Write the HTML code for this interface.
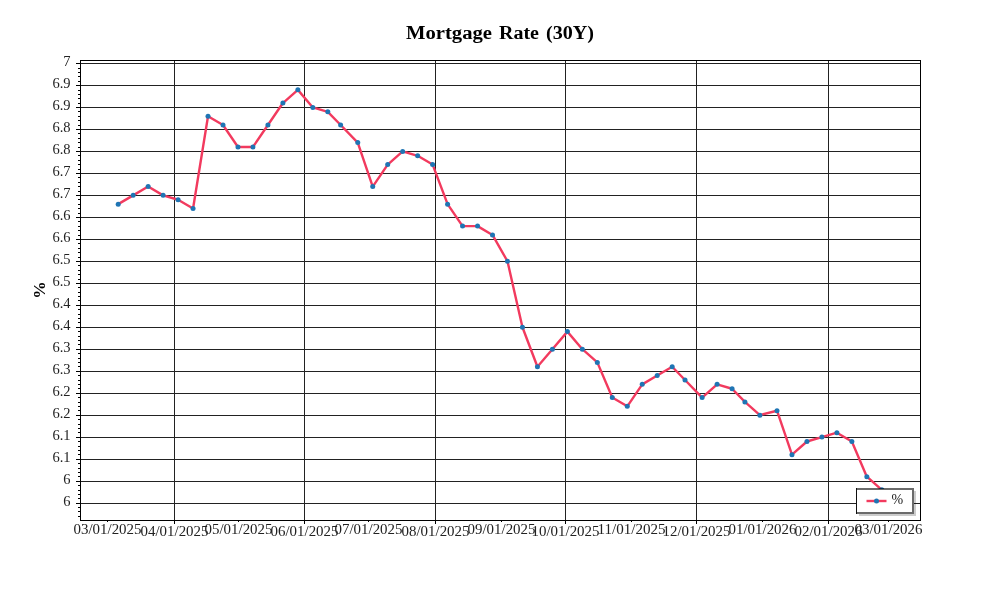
<!DOCTYPE html>
<html><head><meta charset="utf-8"><style>
html,body{margin:0;padding:0;background:#fff;}
body{width:1000px;height:600px;overflow:hidden;}
svg{display:block;will-change:transform;}
.t{font-family:"Liberation Serif",serif;}
</style></head><body>
<svg width="1000" height="600" viewBox="0 0 1000 600">
<rect x="0" y="0" width="1000" height="600" fill="#fff"/>
<g class="t" font-size="18" font-weight="bold" fill="#000">
<text x="406" y="39" textLength="86" lengthAdjust="spacingAndGlyphs">Mortgage</text>
<text x="499" y="39" textLength="40" lengthAdjust="spacingAndGlyphs">Rate</text>
<text x="546" y="39" textLength="48" lengthAdjust="spacingAndGlyphs">(30Y)</text>
</g>
<text class="t" transform="translate(44.7,290) rotate(-90)" text-anchor="middle" font-size="17.5" font-weight="bold" fill="#000">%</text>
<g fill="#222" shape-rendering="crispEdges">
<rect x="80" y="63" width="840" height="1"/>
<rect x="80" y="85" width="840" height="1"/>
<rect x="80" y="107" width="840" height="1"/>
<rect x="80" y="129" width="840" height="1"/>
<rect x="80" y="151" width="840" height="1"/>
<rect x="80" y="173" width="840" height="1"/>
<rect x="80" y="195" width="840" height="1"/>
<rect x="80" y="217" width="840" height="1"/>
<rect x="80" y="239" width="840" height="1"/>
<rect x="80" y="261" width="840" height="1"/>
<rect x="80" y="283" width="840" height="1"/>
<rect x="80" y="305" width="840" height="1"/>
<rect x="80" y="327" width="840" height="1"/>
<rect x="80" y="349" width="840" height="1"/>
<rect x="80" y="371" width="840" height="1"/>
<rect x="80" y="393" width="840" height="1"/>
<rect x="80" y="415" width="840" height="1"/>
<rect x="80" y="437" width="840" height="1"/>
<rect x="80" y="459" width="840" height="1"/>
<rect x="80" y="481" width="840" height="1"/>
<rect x="80" y="503" width="840" height="1"/>
<rect x="174" y="60" width="1" height="460"/>
<rect x="304" y="60" width="1" height="460"/>
<rect x="435" y="60" width="1" height="460"/>
<rect x="565" y="60" width="1" height="460"/>
<rect x="696" y="60" width="1" height="460"/>
<rect x="828" y="60" width="1" height="460"/>
</g>
<g fill="#000" shape-rendering="crispEdges">
<rect x="80" y="60" width="841" height="1"/>
<rect x="80" y="520" width="841" height="1"/>
<rect x="80" y="60" width="1" height="461"/>
<rect x="920" y="60" width="1" height="461"/>
<rect x="76" y="63" width="4" height="1"/>
<rect x="76" y="85" width="4" height="1"/>
<rect x="76" y="107" width="4" height="1"/>
<rect x="76" y="129" width="4" height="1"/>
<rect x="76" y="151" width="4" height="1"/>
<rect x="76" y="173" width="4" height="1"/>
<rect x="76" y="195" width="4" height="1"/>
<rect x="76" y="217" width="4" height="1"/>
<rect x="76" y="239" width="4" height="1"/>
<rect x="76" y="261" width="4" height="1"/>
<rect x="76" y="283" width="4" height="1"/>
<rect x="76" y="305" width="4" height="1"/>
<rect x="76" y="327" width="4" height="1"/>
<rect x="76" y="349" width="4" height="1"/>
<rect x="76" y="371" width="4" height="1"/>
<rect x="76" y="393" width="4" height="1"/>
<rect x="76" y="415" width="4" height="1"/>
<rect x="76" y="437" width="4" height="1"/>
<rect x="76" y="459" width="4" height="1"/>
<rect x="76" y="481" width="4" height="1"/>
<rect x="76" y="503" width="4" height="1"/>
<rect x="78" y="68" width="2" height="1"/>
<rect x="78" y="72" width="2" height="1"/>
<rect x="78" y="76" width="2" height="1"/>
<rect x="78" y="81" width="2" height="1"/>
<rect x="78" y="90" width="2" height="1"/>
<rect x="78" y="94" width="2" height="1"/>
<rect x="78" y="98" width="2" height="1"/>
<rect x="78" y="103" width="2" height="1"/>
<rect x="78" y="111" width="2" height="1"/>
<rect x="78" y="116" width="2" height="1"/>
<rect x="78" y="120" width="2" height="1"/>
<rect x="78" y="125" width="2" height="1"/>
<rect x="78" y="133" width="2" height="1"/>
<rect x="78" y="138" width="2" height="1"/>
<rect x="78" y="142" width="2" height="1"/>
<rect x="78" y="147" width="2" height="1"/>
<rect x="78" y="155" width="2" height="1"/>
<rect x="78" y="160" width="2" height="1"/>
<rect x="78" y="164" width="2" height="1"/>
<rect x="78" y="169" width="2" height="1"/>
<rect x="78" y="177" width="2" height="1"/>
<rect x="78" y="182" width="2" height="1"/>
<rect x="78" y="186" width="2" height="1"/>
<rect x="78" y="191" width="2" height="1"/>
<rect x="78" y="199" width="2" height="1"/>
<rect x="78" y="204" width="2" height="1"/>
<rect x="78" y="208" width="2" height="1"/>
<rect x="78" y="213" width="2" height="1"/>
<rect x="78" y="221" width="2" height="1"/>
<rect x="78" y="226" width="2" height="1"/>
<rect x="78" y="230" width="2" height="1"/>
<rect x="78" y="235" width="2" height="1"/>
<rect x="78" y="243" width="2" height="1"/>
<rect x="78" y="248" width="2" height="1"/>
<rect x="78" y="252" width="2" height="1"/>
<rect x="78" y="257" width="2" height="1"/>
<rect x="78" y="265" width="2" height="1"/>
<rect x="78" y="270" width="2" height="1"/>
<rect x="78" y="274" width="2" height="1"/>
<rect x="78" y="279" width="2" height="1"/>
<rect x="78" y="287" width="2" height="1"/>
<rect x="78" y="292" width="2" height="1"/>
<rect x="78" y="296" width="2" height="1"/>
<rect x="78" y="300" width="2" height="1"/>
<rect x="78" y="309" width="2" height="1"/>
<rect x="78" y="314" width="2" height="1"/>
<rect x="78" y="318" width="2" height="1"/>
<rect x="78" y="322" width="2" height="1"/>
<rect x="78" y="331" width="2" height="1"/>
<rect x="78" y="336" width="2" height="1"/>
<rect x="78" y="340" width="2" height="1"/>
<rect x="78" y="344" width="2" height="1"/>
<rect x="78" y="353" width="2" height="1"/>
<rect x="78" y="358" width="2" height="1"/>
<rect x="78" y="362" width="2" height="1"/>
<rect x="78" y="366" width="2" height="1"/>
<rect x="78" y="375" width="2" height="1"/>
<rect x="78" y="380" width="2" height="1"/>
<rect x="78" y="384" width="2" height="1"/>
<rect x="78" y="388" width="2" height="1"/>
<rect x="78" y="397" width="2" height="1"/>
<rect x="78" y="402" width="2" height="1"/>
<rect x="78" y="406" width="2" height="1"/>
<rect x="78" y="410" width="2" height="1"/>
<rect x="78" y="419" width="2" height="1"/>
<rect x="78" y="424" width="2" height="1"/>
<rect x="78" y="428" width="2" height="1"/>
<rect x="78" y="432" width="2" height="1"/>
<rect x="78" y="441" width="2" height="1"/>
<rect x="78" y="446" width="2" height="1"/>
<rect x="78" y="450" width="2" height="1"/>
<rect x="78" y="454" width="2" height="1"/>
<rect x="78" y="463" width="2" height="1"/>
<rect x="78" y="468" width="2" height="1"/>
<rect x="78" y="472" width="2" height="1"/>
<rect x="78" y="476" width="2" height="1"/>
<rect x="78" y="485" width="2" height="1"/>
<rect x="78" y="490" width="2" height="1"/>
<rect x="78" y="494" width="2" height="1"/>
<rect x="78" y="498" width="2" height="1"/>
<rect x="78" y="507" width="2" height="1"/>
<rect x="78" y="511" width="2" height="1"/>
<rect x="78" y="516" width="2" height="1"/>
<rect x="107" y="520" width="1" height="2"/>
<rect x="174" y="520" width="1" height="4"/>
<rect x="238" y="520" width="1" height="2"/>
<rect x="304" y="520" width="1" height="4"/>
<rect x="368" y="520" width="1" height="2"/>
<rect x="435" y="520" width="1" height="4"/>
<rect x="501" y="520" width="1" height="2"/>
<rect x="565" y="520" width="1" height="4"/>
<rect x="631" y="520" width="1" height="2"/>
<rect x="696" y="520" width="1" height="4"/>
<rect x="762" y="520" width="1" height="2"/>
<rect x="828" y="520" width="1" height="4"/>
<rect x="888" y="520" width="1" height="2"/>
</g>
<g class="t" font-size="14.5" fill="#222" text-anchor="end">
<text x="70.5" y="66">7</text>
<text x="70.5" y="88">6.9</text>
<text x="70.5" y="110">6.9</text>
<text x="70.5" y="132">6.8</text>
<text x="70.5" y="154">6.8</text>
<text x="70.5" y="176">6.7</text>
<text x="70.5" y="198">6.7</text>
<text x="70.5" y="220">6.6</text>
<text x="70.5" y="242">6.6</text>
<text x="70.5" y="264">6.5</text>
<text x="70.5" y="286">6.5</text>
<text x="70.5" y="308">6.4</text>
<text x="70.5" y="330">6.4</text>
<text x="70.5" y="352">6.3</text>
<text x="70.5" y="374">6.3</text>
<text x="70.5" y="396">6.2</text>
<text x="70.5" y="418">6.2</text>
<text x="70.5" y="440">6.1</text>
<text x="70.5" y="462">6.1</text>
<text x="70.5" y="484">6</text>
<text x="70.5" y="506">6</text>
</g>
<g class="t" font-size="14.5" fill="#222" text-anchor="middle">
<text x="107.5" y="534" textLength="68" lengthAdjust="spacingAndGlyphs">03/01/2025</text>
<text x="174.5" y="536" textLength="68" lengthAdjust="spacingAndGlyphs">04/01/2025</text>
<text x="238.5" y="534" textLength="68" lengthAdjust="spacingAndGlyphs">05/01/2025</text>
<text x="304.5" y="536" textLength="68" lengthAdjust="spacingAndGlyphs">06/01/2025</text>
<text x="368.5" y="534" textLength="68" lengthAdjust="spacingAndGlyphs">07/01/2025</text>
<text x="435.5" y="536" textLength="68" lengthAdjust="spacingAndGlyphs">08/01/2025</text>
<text x="501.5" y="534" textLength="68" lengthAdjust="spacingAndGlyphs">09/01/2025</text>
<text x="565.5" y="536" textLength="68" lengthAdjust="spacingAndGlyphs">10/01/2025</text>
<text x="631.5" y="534" textLength="68" lengthAdjust="spacingAndGlyphs">11/01/2025</text>
<text x="696.5" y="536" textLength="68" lengthAdjust="spacingAndGlyphs">12/01/2025</text>
<text x="762.5" y="534" textLength="68" lengthAdjust="spacingAndGlyphs">01/01/2026</text>
<text x="828.5" y="536" textLength="68" lengthAdjust="spacingAndGlyphs">02/01/2026</text>
<text x="888.5" y="534" textLength="68" lengthAdjust="spacingAndGlyphs">03/01/2026</text>
</g>
<path d="M118.19,204.14 L133.16,195.35 L148.13,186.56 L163.10,195.35 L178.08,199.75 L193.05,208.54 L208.02,116.23 L223.00,125.02 L237.97,147.00 L252.94,147.00 L267.92,125.02 L282.89,103.04 L297.86,89.86 L312.83,107.44 L327.81,111.83 L340.64,125.02 L357.75,142.60 L372.73,186.56 L387.70,164.58 L402.67,151.39 L417.65,155.79 L432.62,164.58 L447.59,204.14 L462.56,226.12 L477.54,226.12 L492.51,234.91 L507.48,261.28 L522.46,327.22 L537.43,366.78 L552.40,349.20 L567.38,331.61 L582.35,349.20 L597.32,362.38 L612.29,397.55 L627.27,406.34 L642.24,384.36 L657.21,375.57 L672.19,366.78 L685.02,379.97 L702.13,397.55 L717.11,384.36 L732.08,388.76 L744.91,401.94 L759.89,415.13 L777.00,410.73 L791.97,454.69 L806.94,441.50 L821.92,437.11 L836.89,432.71 L851.86,441.50 L866.84,476.67 L881.81,489.86" fill="none" stroke="#f23a5e" stroke-width="2.4" stroke-linejoin="round"/>
<g fill="#1f75b4">
<circle cx="118.19" cy="204.14" r="2.5"/>
<circle cx="133.16" cy="195.35" r="2.5"/>
<circle cx="148.13" cy="186.56" r="2.5"/>
<circle cx="163.10" cy="195.35" r="2.5"/>
<circle cx="178.08" cy="199.75" r="2.5"/>
<circle cx="193.05" cy="208.54" r="2.5"/>
<circle cx="208.02" cy="116.23" r="2.5"/>
<circle cx="223.00" cy="125.02" r="2.5"/>
<circle cx="237.97" cy="147.00" r="2.5"/>
<circle cx="252.94" cy="147.00" r="2.5"/>
<circle cx="267.92" cy="125.02" r="2.5"/>
<circle cx="282.89" cy="103.04" r="2.5"/>
<circle cx="297.86" cy="89.86" r="2.5"/>
<circle cx="312.83" cy="107.44" r="2.5"/>
<circle cx="327.81" cy="111.83" r="2.5"/>
<circle cx="340.64" cy="125.02" r="2.5"/>
<circle cx="357.75" cy="142.60" r="2.5"/>
<circle cx="372.73" cy="186.56" r="2.5"/>
<circle cx="387.70" cy="164.58" r="2.5"/>
<circle cx="402.67" cy="151.39" r="2.5"/>
<circle cx="417.65" cy="155.79" r="2.5"/>
<circle cx="432.62" cy="164.58" r="2.5"/>
<circle cx="447.59" cy="204.14" r="2.5"/>
<circle cx="462.56" cy="226.12" r="2.5"/>
<circle cx="477.54" cy="226.12" r="2.5"/>
<circle cx="492.51" cy="234.91" r="2.5"/>
<circle cx="507.48" cy="261.28" r="2.5"/>
<circle cx="522.46" cy="327.22" r="2.5"/>
<circle cx="537.43" cy="366.78" r="2.5"/>
<circle cx="552.40" cy="349.20" r="2.5"/>
<circle cx="567.38" cy="331.61" r="2.5"/>
<circle cx="582.35" cy="349.20" r="2.5"/>
<circle cx="597.32" cy="362.38" r="2.5"/>
<circle cx="612.29" cy="397.55" r="2.5"/>
<circle cx="627.27" cy="406.34" r="2.5"/>
<circle cx="642.24" cy="384.36" r="2.5"/>
<circle cx="657.21" cy="375.57" r="2.5"/>
<circle cx="672.19" cy="366.78" r="2.5"/>
<circle cx="685.02" cy="379.97" r="2.5"/>
<circle cx="702.13" cy="397.55" r="2.5"/>
<circle cx="717.11" cy="384.36" r="2.5"/>
<circle cx="732.08" cy="388.76" r="2.5"/>
<circle cx="744.91" cy="401.94" r="2.5"/>
<circle cx="759.89" cy="415.13" r="2.5"/>
<circle cx="777.00" cy="410.73" r="2.5"/>
<circle cx="791.97" cy="454.69" r="2.5"/>
<circle cx="806.94" cy="441.50" r="2.5"/>
<circle cx="821.92" cy="437.11" r="2.5"/>
<circle cx="836.89" cy="432.71" r="2.5"/>
<circle cx="851.86" cy="441.50" r="2.5"/>
<circle cx="866.84" cy="476.67" r="2.5"/>
<circle cx="881.81" cy="489.86" r="2.5"/>
</g>
<g shape-rendering="crispEdges">
<rect x="914" y="491" width="2" height="25" fill="rgba(0,0,0,0.2)"/>
<rect x="859" y="514" width="55" height="2" fill="rgba(0,0,0,0.2)"/>
<rect x="856" y="489" width="58" height="25" fill="#fff"/>
<rect x="857" y="488" width="57" height="2" fill="rgba(0,0,0,0.58)"/>
<rect x="912" y="490" width="2" height="22" fill="rgba(0,0,0,0.58)"/>
<rect x="857" y="512" width="57" height="2" fill="rgba(0,0,0,0.58)"/>
<rect x="856" y="488" width="1" height="26" fill="#111"/>
</g>
<line x1="866.5" y1="501" x2="886.5" y2="501" stroke="#f23a5e" stroke-width="2.4"/>
<circle cx="876.5" cy="501" r="2.5" fill="#1f75b4"/>
<text class="t" x="891.5" y="504" font-size="14" fill="#222">%</text>
</svg>
</body></html>
